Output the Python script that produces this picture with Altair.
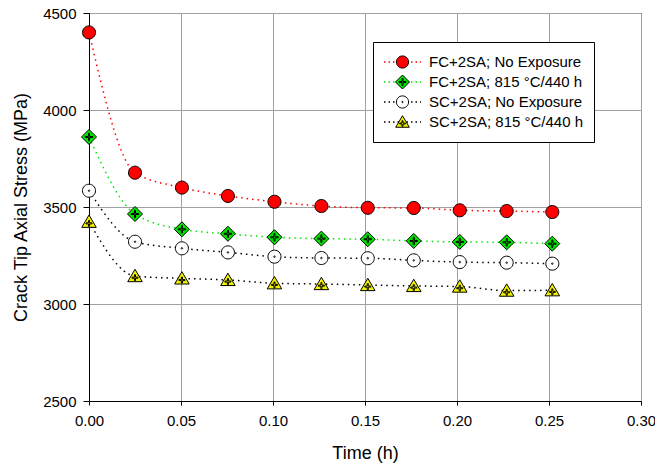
import altair as alt
import pandas as pd

# ---- data ----
series_names = [
    "FC+2SA; No Exposure",
    "FC+2SA; 815 °C/440 h",
    "SC+2SA; No Exposure",
    "SC+2SA; 815 °C/440 h",
]
time_h = [0.0, 0.025, 0.0505, 0.0755, 0.1008, 0.1263, 0.1515, 0.1765, 0.2015, 0.227, 0.2518]
fc_no_exposure = [4400, 3677, 3600, 3557, 3527, 3505, 3496, 3495, 3483, 3479, 3474]
fc_exposed = [3861, 3464, 3385, 3362, 3344, 3337, 3334, 3325, 3320, 3318, 3311]
sc_no_exposure = [3584, 3321, 3287, 3266, 3244, 3237, 3236, 3225, 3216, 3213, 3208]
sc_exposed = [3424, 3144, 3132, 3124, 3107, 3103, 3098, 3093, 3090, 3069, 3071]

x_ticks = [0.0, 0.05, 0.10, 0.15, 0.20, 0.25, 0.30]
y_ticks = [2500, 3000, 3500, 4000, 4500]

all_values = [fc_no_exposure, fc_exposed, sc_no_exposure, sc_exposed]
rows = []
for i, (name, vals) in enumerate(zip(series_names, all_values)):
    for t, v in zip(time_h, vals):
        rows.append({"series": name, "idx": i, "time": t, "stress": v})
df = pd.DataFrame(rows)

# ---- styles ----
FONT = "Liberation Sans"
line_colors = ["#ff0000", "#00e600", "#000000", "#000000"]
fill_colors = ["#ff0000", "#00e600", "#ffffff", "#f2f200"]
edge_colors = ["#000000", "#000000", "#000000", "#000000"]


def circle(r, cx=0.0, cy=0.0):
    return (f"M {cx - r} {cy} A {r} {r} 0 1 0 {cx + r} {cy} "
            f"A {r} {r} 0 1 0 {cx - r} {cy} Z")


def plus(cx, cy, L, w):
    pts = [(-w, -L), (w, -L), (w, -w), (L, -w), (L, w), (w, w), (w, L),
           (-w, L), (-w, w), (-L, w), (-L, -w), (-w, -w)]
    s = " L ".join(f"{cx + a:.3f} {cy + b:.3f}" for a, b in pts)
    return f"M {s} Z"


shape_paths = [
    circle(0.87),
    "M 0 -1 L 1 0 L 0 1 L -1 0 Z " + plus(0, 0, 0.5, 0.07),
    circle(0.87) + " " + circle(0.1),
    "M 0 -0.9 L 0.97 0.75 L -0.97 0.75 Z " + plus(0, 0.22, 0.4, 0.07),
]

x_enc = alt.X("time:Q", title="Time (h)",
              scale=alt.Scale(domain=[0, 0.3], nice=False, zero=False),
              axis=alt.Axis(values=x_ticks, format=".2f", tickSize=4,
                            labelFlush=False, labelOverlap=False,
                            labelPadding=8, titlePadding=16))
y_enc = alt.Y("stress:Q", title="Crack Tip Axial Stress (MPa)",
              scale=alt.Scale(domain=[2500, 4500], nice=False, zero=False),
              axis=alt.Axis(values=y_ticks, format="d", tickSize=6,
                            labelFlush=False, labelPadding=7,
                            titlePadding=12))

lines = alt.Chart(df).mark_line(
    interpolate="monotone", strokeDash=[1.5, 4], strokeWidth=1.5
).encode(
    x=x_enc,
    y=y_enc,
    color=alt.Color(
        "series:N",
        scale=alt.Scale(domain=series_names, range=line_colors),
        legend=alt.Legend(
            orient="none", legendX=284, legendY=29, title=None,
            symbolType="stroke", symbolSize=1369, symbolStrokeWidth=1.5,
            symbolDash=[1.5, 3], labelOffset=7, labelFontSize=15,
            labelFont=FONT, labelColor="black", clipHeight=20, padding=10,
            rowPadding=0, strokeColor="black", fillColor="white",
            labelLimit=400,
        ),
    ),
)

pt_legend = alt.Legend(
    orient="none", legendX=284, legendY=29, title=None,
    labelExpr="''", labelFontSize=15, symbolOffset=12, symbolSize=196,
    symbolStrokeWidth=1, symbolOpacity=1, clipHeight=20,
    padding=10, rowPadding=0,
)

points = alt.Chart(df).mark_point(
    filled=True, size=225, strokeWidth=1, opacity=1,
    fillOpacity=1, strokeOpacity=1,
).encode(
    x=x_enc,
    y=y_enc,
    fill=alt.Fill("idx:N", scale=alt.Scale(domain=[0, 1, 2, 3], range=fill_colors),
                  legend=pt_legend),
    stroke=alt.Stroke("idx:N", scale=alt.Scale(domain=[0, 1, 2, 3], range=edge_colors),
                      legend=pt_legend),
    shape=alt.Shape("idx:N", scale=alt.Scale(domain=[0, 1, 2, 3], range=shape_paths),
                    legend=pt_legend),
)

chart = alt.layer(lines, points).properties(
    width=552,
    height=388,
    padding={"left": 89, "top": 13, "right": 14, "bottom": 68},
    autosize=alt.AutoSizeParams(type="none"),
    background="white",
).configure_view(
    stroke="black", strokeWidth=1
).configure_axis(
    labelFont=FONT, labelFontSize=15, labelColor="black",
    titleFont=FONT, titleFontSize=18, titleFontWeight="normal", titleColor="black",
    gridColor="#a0a0a0", gridWidth=1, domainColor="black", tickColor="black",
)

chart.save("out.html", embed_options={"renderer": "svg", "actions": False})
